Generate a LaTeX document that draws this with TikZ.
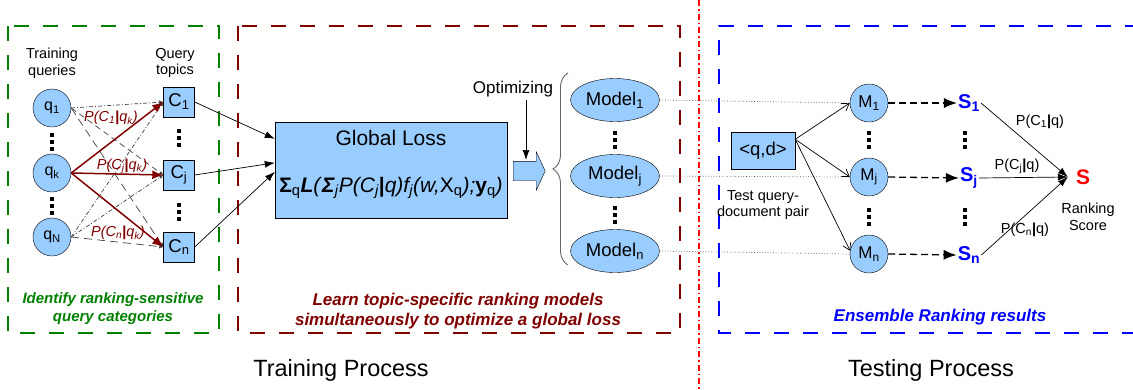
\documentclass[tikz,border=0pt]{standalone}
\usepackage{fontspec}
\setmainfont{Liberation Sans}
\usetikzlibrary{arrows.meta,shapes.geometric,shapes.arrows,decorations.pathreplacing,calc}
\definecolor{lb}{HTML}{99CCFF}
\definecolor{dred}{HTML}{800000}
\definecolor{dgreen}{HTML}{008000}
\definecolor{pblue}{HTML}{0000FF}
\newcommand\sub[1]{\textsubscript{#1}}
\tikzset{
  fs/.style={font=\fontsize{#1}{\dimexpr #1pt*115/100\relax}\selectfont},
  capfont/.style={font=\fontsize{#1}{\dimexpr #1pt*12/10\relax}\selectfont\bfseries\itshape,align=center},
  qnode/.style={circle,draw,fill=lb,minimum size=38pt,inner sep=0pt,fs=16},
  cbox/.style={rectangle,draw,fill=lb,minimum width=31pt,minimum height=30pt,inner sep=0pt,fs=18.5},
  mnode/.style={circle,draw,fill=lb,minimum size=38pt,inner sep=0pt,fs=17},
  modnode/.style={ellipse,draw,fill=lb,minimum width=89pt,minimum height=43pt,inner sep=0pt,fs=18.5},
  snode/.style={text=pblue,font=\fontsize{20}{22}\selectfont\bfseries,inner sep=1pt},
  vd/.pic={\foreach \d in {-7,0,7} \fill (-1.6,\d-1.6) rectangle ++(3.2,3.2);},
  grouprect/.style={line width=1.6pt,dash pattern=on 15pt off 14pt},
  redarr/.style={dred,line width=1.5pt,-{Latex[length=11pt,width=9pt]}},
  grayln/.style={black!75,line width=0.7pt,-{Latex[length=4pt,width=4pt]}},
  thinarr/.style={black,line width=0.7pt,-{Latex[length=10pt,width=7pt]}},
  openarr/.style={black,line width=0.7pt,-{Straight Barb[length=7pt,width=9pt]}},
  msarr/.style={black,line width=1.3pt,dash pattern=on 7pt off 4pt,-{Latex[length=13pt,width=10pt]}},
  dotln/.style={black!70,line width=0.7pt,dotted},
}
\begin{document}
\begin{tikzpicture}[x=1pt,y=-1pt]
\useasboundingbox (0,0) rectangle (1133,389);
% group boxes
\draw[grouprect,dgreen] (8,26) rectangle (219,333);
\draw[grouprect,dred] (238,26) rectangle (680,333);
\draw[grouprect,pblue] (1140,26) -- (719,26) -- (719,333) -- (1140,333);
\draw[red,line width=1.5pt,dash pattern=on 6pt off 3pt on 1.5pt off 3pt] (699,0) -- (699,389);

% training queries
\node[fs=14.5,align=center] (tq) at (52,63) {Training\\queries};
\node[fs=14.5,align=center] (qt) at (175,63) {Query\\topics};
\node[qnode] (q1) at (52,108) {q\sub{1}};
\node[qnode] (qk) at (52,173) {q\sub{k}};
\node[qnode] (qN) at (52,237) {q\sub{N}};
\pic at (52,142) {vd};
\pic at (52,206) {vd};

\node[cbox] (C1) at (179,102) {C\sub{1}};
\node[cbox] (Cj) at (179,175) {C\sub{j}};
\node[cbox] (Cn) at (179,247) {C\sub{n}};
\pic at (179,138) {vd};
\pic at (179,212) {vd};

% gray lines
\draw[grayln,dash pattern=on 4pt off 2pt on 1pt off 2pt] (q1.east) -- (C1.west);
\draw[grayln,dash pattern=on 6pt off 4pt] (q1.east) -- (Cj.west);
\draw[grayln,dash pattern=on 8pt off 5pt] (q1.east) -- (Cn.west);
\draw[grayln,dash pattern=on 4pt off 2pt on 1pt off 2pt] (qN.east) -- (C1.west);
\draw[grayln,dash pattern=on 4pt off 2pt on 1pt off 2pt] (qN.east) -- (Cj.west);
\draw[grayln,dash pattern=on 8pt off 5pt] (qN.east) -- (Cn.west);
% red arrows
\draw[redarr] (qk.east) -- (C1.west);
\draw[redarr] (qk.east) -- (Cj.west);
\draw[redarr] (qk.east) -- (Cn.west);
\node[fs=14.5,text=dred] (l1) at (111,118) {\textit{P(C\sub{1}}\textbf{|}\textit{q\sub{k})}};
\node[fs=14.5,text=dred] (l2) at (122,166) {\textit{P(C\sub{j}}\textbf{|}\textit{q\sub{k})}};
\node[fs=14.5,text=dred] (l3) at (118,233) {\textit{P(C\sub{n}}\textbf{|}\textit{q\sub{k})}};

% global loss
\node[rectangle,draw,fill=lb,minimum width=232pt,minimum height=96pt] (GL) at (391,170) {};
\node[fs=21] (GLt) at (391,138) {Global Loss};
\node[fs=21] (GLf) at (391,188) {\textbf{Σ}\sub{q}\textbf{\textit{L}}\textit{(}\textbf{\textit{Σ}}\sub{\textit{j}}\textit{P(C\sub{j}}\textbf{|}\textit{q)f\sub{j}(w,}X\sub{q}\textit{);}\textbf{y}\sub{q}\textit{)}};
\draw[thinarr] (C1.east) -- ($(GL.north west)+(0,17)$);
\draw[thinarr] (Cj.east) -- ($(GL.north west)+(0,41)$);
\draw[thinarr] (Cn.east) -- ($(GL.north west)+(0,50)$);

% block arrow and optimizing
\node[single arrow,draw,fill=lb,minimum height=32pt,inner xsep=0pt,inner ysep=9.5pt,single arrow head extend=9.5pt,single arrow tip angle=130,anchor=west] (BA) at (513,171) {};
\node[fs=17] (opt) at (513,89) {Optimizing};
\coordinate (optend) at (526,160);
\draw[black,line width=0.7pt,-{Latex[length=10pt,width=7pt]}] (opt.south -| optend) -- (optend);
\draw[black!60,line width=0.9pt,decorate,decoration={brace,amplitude=15pt,aspect=0.5}] (568,265) -- (568,73);

% models
\node[modnode] (Mo1) at (615,100) {Model\sub{1}};
\node[modnode] (Moj) at (615,176) {Model\sub{j}};
\node[modnode] (Mon) at (615,251) {Model\sub{n}};
\pic at (615,140) {vd};
\pic at (615,215) {vd};

% testing
\node[mnode] (M1) at (869,103) {M\sub{1}};
\node[mnode] (Mj) at (869,177) {M\sub{j}};
\node[mnode] (Mn) at (869,254) {M\sub{n}};
\pic at (869,140) {vd};
\pic at (869,217) {vd};
\draw[dotln] (Mo1.east) -- (M1.west);
\draw[dotln] (Moj.east) -- (Mj.west);
\draw[dotln] (Mon.east) -- (Mn.west);

\node[rectangle,draw,fill=lb,minimum width=64pt,minimum height=37pt,inner sep=0pt,fs=18.5] (qd) at (763,151) {<q,d>};
\node[fs=14.5,align=center] (tqd) at (763,205) {Test query-\\document pair};
\draw[openarr] (qd.20) -- (M1.west);
\draw[openarr] (qd.20) -- (Mj.west);
\draw[openarr] (qd.20) -- (Mn.170);

\node[snode] (S1) at (969,103) {S\sub{1}};
\node[snode] (Sj) at (969,178) {S\sub{j}};
\node[snode] (Sn) at (969,255) {S\sub{n}};
\pic at (965,140) {vd};
\pic at (965,217) {vd};
\draw[msarr] (M1.east) -- (S1.west);
\draw[msarr] (Mj.east) -- (Sj.west);
\draw[msarr] (Mn.east) -- (Sn.west);

\node[text=red,font=\fontsize{21}{22}\selectfont\bfseries,inner sep=8pt] (Sf) at (1083,177) {S};
\node[fs=14.5,align=center] (rs) at (1088,217) {Ranking\\Score};
\draw[thinarr] (S1.east) -- (Sf.west);
\draw[thinarr] (Sj.east) -- (Sf.west);
\draw[thinarr] (Sn.east) -- (Sf.west);
\node[fs=14.5] (p1) at (1040,122) {P(C\sub{1}\textbf{|}q)};
\node[fs=14.5] (pj) at (1017,166) {P(C\sub{j}\textbf{|}q)};
\node[fs=14.5] (pn) at (1025,230) {P(C\sub{n}\textbf{|}q)};

% captions
\node[capfont=15,text=dgreen] (cap1) at (113,309) {Identify ranking-sensitive\\query categories};
\node[capfont=17,text=dred] (cap2) at (458,311) {Learn topic-specific ranking models\\simultaneously to optimize a global loss};
\node[capfont=17,text=pblue] (cap3) at (940,317) {Ensemble Ranking results};
\node[fs=23.5] (tp) at (341,370) {Training Process};
\node[fs=23.5] (tsp) at (931,370) {Testing Process};
\end{tikzpicture}
\end{document}
